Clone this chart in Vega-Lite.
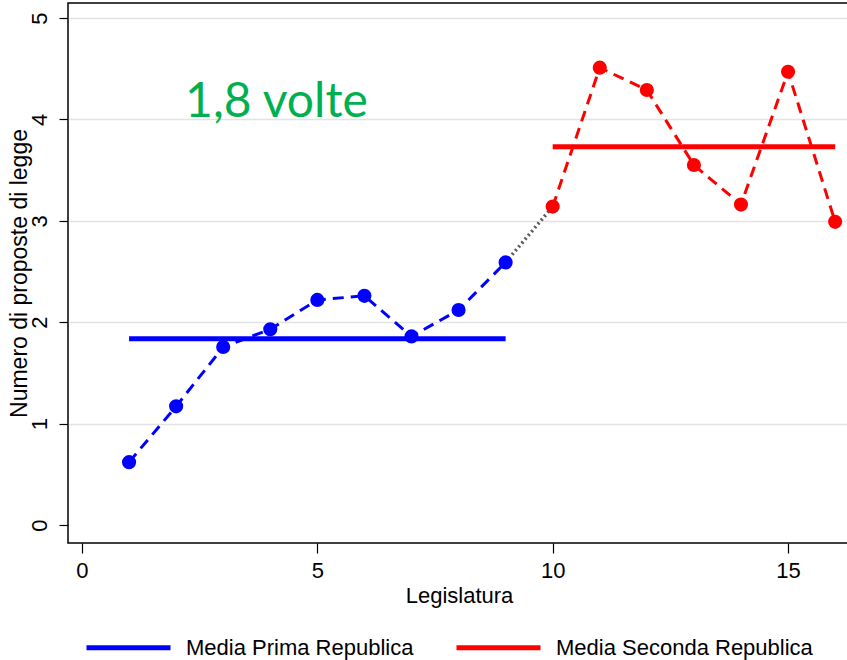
{
  "$schema": "https://vega.github.io/schema/vega-lite/v6.json",
  "width": 782,
  "height": 540,
  "autosize": "none",
  "padding": {"left": 68, "top": 3, "right": 0, "bottom": 117},
  "background": "white",
  "config": {
    "view": {"stroke": "black", "strokeWidth": 1.5},
    "font": "Liberation Sans"
  },
  "datasets": {
    "punti": [
      {"serie": "Media Prima Republica", "leg": 1, "valore": 0.62},
      {"serie": "Media Prima Republica", "leg": 2, "valore": 1.17},
      {"serie": "Media Prima Republica", "leg": 3, "valore": 1.755},
      {"serie": "Media Prima Republica", "leg": 4, "valore": 1.93},
      {"serie": "Media Prima Republica", "leg": 5, "valore": 2.22},
      {"serie": "Media Prima Republica", "leg": 6, "valore": 2.26},
      {"serie": "Media Prima Republica", "leg": 7, "valore": 1.86},
      {"serie": "Media Prima Republica", "leg": 8, "valore": 2.12},
      {"serie": "Media Prima Republica", "leg": 9, "valore": 2.59},
      {"serie": "Media Seconda Republica", "leg": 10, "valore": 3.14},
      {"serie": "Media Seconda Republica", "leg": 11, "valore": 4.51},
      {"serie": "Media Seconda Republica", "leg": 12, "valore": 4.29},
      {"serie": "Media Seconda Republica", "leg": 13, "valore": 3.55},
      {"serie": "Media Seconda Republica", "leg": 14, "valore": 3.16},
      {"serie": "Media Seconda Republica", "leg": 15, "valore": 4.47},
      {"serie": "Media Seconda Republica", "leg": 16, "valore": 2.99}
    ],
    "medie": [
      {"serie": "Media Prima Republica", "leg": 1, "leg_fine": 9, "valore": 1.836},
      {"serie": "Media Seconda Republica", "leg": 10, "leg_fine": 16, "valore": 3.73}
    ],
    "ponte": [
      {"leg": 9, "valore": 2.59},
      {"leg": 10, "valore": 3.14}
    ],
    "nota": [
      {"leg": 2.19, "valore": 4.02, "testo": "1,8 volte"}
    ]
  },
  "resolve": {"legend": {"color": "independent"}},
  "encoding": {
    "x": {
      "field": "leg",
      "type": "quantitative",
      "scale": {"domain": [-0.297, 16.316], "nice": false, "zero": false},
      "axis": {
        "values": [0, 5, 10, 15],
        "title": "Legislatura",
        "grid": false,
        "domain": false,
        "tickColor": "black",
        "tickSize": 10,
        "tickWidth": 1.2,
        "labelFont": "Liberation Sans",
        "labelFontSize": 22,
        "labelColor": "black",
        "labelPadding": 7,
        "titleFont": "Liberation Sans",
        "titleFontSize": 22,
        "titleFontWeight": "normal",
        "titleColor": "black",
        "titlePadding": 4
      }
    },
    "y": {
      "field": "valore",
      "type": "quantitative",
      "scale": {"domain": [-0.1775, 5.148], "nice": false, "zero": false},
      "axis": {
        "values": [0, 1, 2, 3, 4, 5],
        "title": "Numero di proposte di legge",
        "grid": true,
        "gridColor": "#e3e3e3",
        "gridWidth": 1.5,
        "gridOpacity": {"condition": {"test": "datum.value === 0", "value": 0}, "value": 1},
        "domain": false,
        "tickColor": "black",
        "tickSize": 9,
        "tickWidth": 1.2,
        "labelAngle": -90,
        "labelAlign": "center",
        "labelBaseline": "bottom",
        "labelFont": "Liberation Sans",
        "labelFontSize": 22,
        "labelColor": "black",
        "labelPadding": 8,
        "titleFont": "Liberation Sans",
        "titleFontSize": 23,
        "titleFontWeight": "normal",
        "titleColor": "black",
        "titlePadding": -3
      }
    }
  },
  "layer": [
    {
      "data": {"name": "ponte"},
      "mark": {"type": "line", "color": "#5a5a5a", "strokeWidth": 3.5, "strokeDash": [2, 3]}
    },
    {
      "data": {"name": "punti"},
      "mark": {"type": "line", "strokeWidth": 3, "strokeDash": [11, 7]},
      "encoding": {
        "color": {
          "field": "serie",
          "type": "nominal",
          "scale": {"domain": ["Media Prima Republica", "Media Seconda Republica"], "range": ["#0000FF", "#FF0000"]},
          "legend": null
        }
      }
    },
    {
      "data": {"name": "punti"},
      "mark": {"type": "point", "filled": true, "opacity": 1, "size": 200, "shape": "circle"},
      "encoding": {
        "color": {"field": "serie", "type": "nominal", "legend": null}
      }
    },
    {
      "data": {"name": "medie"},
      "mark": {"type": "rule", "strokeWidth": 5},
      "encoding": {
        "x2": {"field": "leg_fine"},
        "color": {
          "field": "serie",
          "type": "nominal",
          "legend": {
            "orient": "none",
            "direction": "horizontal",
            "legendX": 16,
            "legendY": 600,
            "title": null,
            "padding": 0,
            "symbolType": "stroke",
            "symbolSize": 7056,
            "symbolStrokeWidth": 5,
            "labelFont": "Liberation Sans",
            "labelFontSize": 22,
            "labelColor": "black",
            "labelLimit": 400,
            "labelOffset": 13,
            "columnPadding": 32
          }
        }
      }
    },
    {
      "data": {"name": "nota"},
      "mark": {"type": "text", "align": "left", "baseline": "alphabetic", "font": "Lato", "fontSize": 48, "color": "#00B050"},
      "encoding": {
        "text": {"field": "testo"}
      }
    }
  ]
}
